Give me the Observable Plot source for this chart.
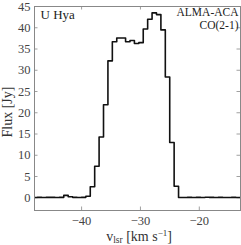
<!DOCTYPE html>
<html>
<head>
<meta charset="utf-8">
<script src="https://cdn.jsdelivr.net/npm/d3@7"></script>
<script src="https://cdn.jsdelivr.net/npm/@observablehq/plot@0.6"></script>
<style>
  html, body { margin: 0; padding: 0; background: #fff; }
  #chart { width: 241px; height: 245px; }
</style>
</head>
<body>
<div id="chart"></div>
<script>
// Channel centre velocities (km/s) and flux (Jy)
const velocity = [
  -48.65, -47.90, -47.15, -46.40, -45.65, -44.90, -44.15, -43.40, -42.65, -41.90,
  -41.15, -40.40, -39.65, -38.90, -38.15, -37.40, -36.65, -35.90, -35.15, -34.40,
  -33.65, -32.90, -32.15, -31.40, -30.65, -29.90, -29.15, -28.40, -27.65, -26.90,
  -26.15, -25.40, -24.65, -23.90, -23.15, -22.40, -21.65, -20.90, -20.15, -19.40,
  -18.65, -17.90, -17.15, -16.40, -15.65, -14.90, -14.15, -13.40, -12.65
];
const flux = [
  0.05, 0.05, 0.08, 0.05, 0.08, 0.10, 0.05, 0.10, 0.55, 0.25,
  0.10, 0.05, 0.10, 0.35, 2.6, 7.4, 14.3, 21.9, 32.2, 36.7,
  37.6, 37.6, 36.7, 37.0, 36.3, 36.5, 39.7, 42.0, 43.5, 43.1,
  39.5, 28.4, 13.0, 2.7, 0.05, 0.05, 0.08, 0.05, 0.08, 0.05,
  0.12, 0.08, 0.05, 0.08, 0.05, 0.05, 0.08, 0.05, 0.05
];
const xTicks = [-40, -30, -20];
const yTicks = [0, 5, 10, 15, 20, 25, 30, 35, 40, 45];
const titleLeft = "U Hya";
const titleRight = ["ALMA-ACA", "CO(2-1)"];

const data = velocity.map((v, i) => ({v, f: flux[i]}));

const W = 241, H = 245;
const mL = 34, mR = 1, mT = 6, mB = 35;
const innerH = H - mT - mB, innerW = W - mL - mR;
const tick = 3.5;
const font = "'Liberation Serif', 'DejaVu Serif', serif";

const plot = Plot.plot({
  width: W, height: H,
  marginLeft: mL, marginRight: mR, marginTop: mT, marginBottom: mB,
  style: {fontFamily: font, fontSize: "12px", background: "#fff", color: "#333"},
  x: {domain: [-48, -13], label: null},
  y: {domain: [-3, 45], label: null},
  marks: [
    Plot.axisX(xTicks, {tickSize: 0, tickPadding: 6, fontSize: 12.5, fill: "#444"}),
    Plot.axisY(yTicks, {tickSize: 0, tickPadding: 4, fontSize: 12.5, fill: "#444"}),
    Plot.ruleX(xTicks, {x: d => d, insetTop: innerH - tick, stroke: "#888", strokeWidth: 0.8}),
    Plot.ruleX(xTicks, {x: d => d, insetBottom: innerH - tick, stroke: "#888", strokeWidth: 0.8}),
    Plot.ruleY(yTicks, {y: d => d, insetRight: innerW - tick, stroke: "#888", strokeWidth: 0.8}),
    Plot.ruleY(yTicks, {y: d => d, insetLeft: innerW - tick, stroke: "#888", strokeWidth: 0.8}),
    Plot.line(data, {x: "v", y: "f", curve: "step", stroke: "#111", strokeWidth: 1.6, clip: true}),
    Plot.frame({stroke: "#888", strokeWidth: 1}),
    Plot.text([titleLeft], {frameAnchor: "top-left", dx: 6, dy: 3, fontSize: 13, fill: "#222", textAnchor: "start"}),
    Plot.text([titleRight.join("\n")], {frameAnchor: "top-right", dx: -2, dy: 0, fontSize: 11.5, fill: "#222", textAnchor: "end", lineHeight: 1.15})
  ]
});

const svg = d3.select(plot);
// y label
svg.append("text")
  .attr("transform", `translate(12, ${mT + innerH / 2 + 4}) rotate(-90)`)
  .attr("text-anchor", "middle")
  .attr("font-family", font)
  .attr("font-size", 14)
  .attr("fill", "#333")
  .text("Flux [Jy]");
// x label with sub/superscripts
const xl = svg.append("text")
  .attr("x", mL + innerW / 2 + 2)
  .attr("y", H - 4)
  .attr("text-anchor", "middle")
  .attr("font-family", font)
  .attr("font-size", 14)
  .attr("fill", "#333");
xl.append("tspan").text("v");
xl.append("tspan").attr("font-size", 9.5).attr("dy", 2).text("lsr");
xl.append("tspan").attr("dy", -2).text(" [km s");
xl.append("tspan").attr("font-size", 9).attr("dy", -5).text("\u22121");
xl.append("tspan").attr("dy", 5).text("]");

document.getElementById("chart").appendChild(plot);
</script>
</body>
</html>
